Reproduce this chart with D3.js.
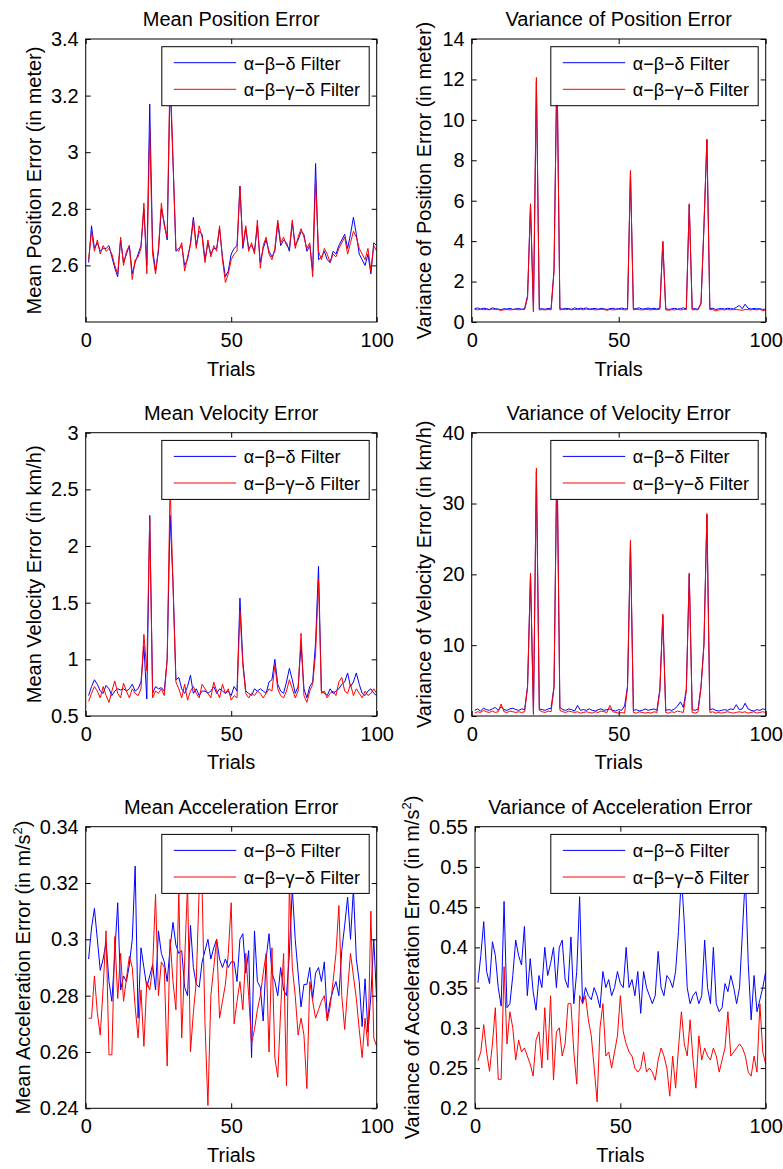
<!DOCTYPE html>
<html><head><meta charset="utf-8">
<script src="https://cdn.jsdelivr.net/npm/d3@7/dist/d3.min.js"></script>
<style>
body{margin:0;background:#fff}
text{font-family:"Liberation Sans",Arial,sans-serif;fill:#000}
</style>
</head><body>
<svg id="chart" width="783" height="1169"></svg>
<script>
// ---------------- DATA ----------------
const trials = d3.range(1, 101);
const xTicks = [0, 50, 100];
const seriesNames = ["α−β−δ Filter", "α−β−γ−δ Filter"];
const seriesColors = ["#0000ff", "#ff0000"];

const titles = ["Mean Position Error", "Variance of Position Error",
  "Mean Velocity Error", "Variance of Velocity Error",
  "Mean Acceleration Error", "Variance of Acceleration Error"];
const yLabels = ["Mean Position Error (in meter)", "Variance of Position Error (in meter)",
  "Mean Velocity Error (in km/h)", "Variance of Velocity Error (in km/h)",
  "Mean Acceleration Error (in m/s^2)", "Variance of Acceleration Error (in m/s^2)"];
const yDomains = [[2.4, 3.4], [0, 14], [0.5, 3], [0, 40], [0.24, 0.34], [0.2, 0.55]];
const yTicks = [
  [2.6, 2.8, 3, 3.2, 3.4],
  [0, 2, 4, 6, 8, 10, 12, 14],
  [0.5, 1, 1.5, 2, 2.5, 3],
  [0, 10, 20, 30, 40],
  [0.24, 0.26, 0.28, 0.3, 0.32, 0.34],
  [0.2, 0.25, 0.3, 0.35, 0.4, 0.45, 0.5, 0.55]];

const meanPosBlue = [2.61,2.74,2.66,2.68,2.65,2.66,2.66,2.67,2.63,2.59,
 2.56,2.69,2.61,2.64,2.67,2.57,2.61,2.64,2.67,2.80,
 2.60,3.17,2.66,2.58,2.65,2.80,2.75,2.69,3.25,2.97,
 2.65,2.66,2.67,2.60,2.62,2.68,2.77,2.67,2.72,2.71,
 2.62,2.68,2.64,2.66,2.66,2.73,2.63,2.56,2.58,2.64,
 2.66,2.67,2.88,2.66,2.73,2.66,2.67,2.65,2.74,2.61,
 2.66,2.69,2.65,2.63,2.65,2.75,2.67,2.69,2.68,2.65,
 2.75,2.67,2.69,2.72,2.71,2.65,2.67,2.58,2.96,2.62,
 2.63,2.65,2.62,2.61,2.65,2.64,2.67,2.69,2.71,2.66,
 2.71,2.77,2.71,2.64,2.62,2.60,2.64,2.57,2.68,2.67];
const meanPosRed = [2.62,2.72,2.65,2.69,2.64,2.67,2.65,2.66,2.64,2.60,
 2.57,2.70,2.60,2.65,2.67,2.55,2.62,2.63,2.66,2.82,
 2.57,3.08,2.64,2.57,2.66,2.82,2.74,2.70,3.30,2.97,
 2.66,2.65,2.68,2.58,2.63,2.67,2.76,2.66,2.74,2.70,
 2.61,2.69,2.63,2.67,2.65,2.74,2.62,2.54,2.57,2.62,
 2.64,2.65,2.88,2.67,2.74,2.65,2.68,2.64,2.76,2.59,
 2.67,2.70,2.64,2.62,2.66,2.76,2.68,2.70,2.67,2.66,
 2.76,2.66,2.70,2.73,2.70,2.66,2.68,2.56,2.90,2.65,
 2.62,2.66,2.64,2.61,2.64,2.63,2.66,2.68,2.70,2.64,
 2.68,2.72,2.70,2.66,2.64,2.62,2.66,2.58,2.67,2.65];

const varPosBlue = [0.66,0.70,0.64,0.68,0.66,0.62,0.70,0.66,0.64,0.61,
 0.66,0.64,0.68,0.62,0.65,0.67,0.63,0.66,1.30,5.80,
 0.55,11.9,0.64,0.66,0.63,0.67,0.65,2.60,12.8,0.66,
 0.64,0.68,0.66,0.63,0.70,0.65,0.68,0.66,0.70,0.64,
 0.66,0.67,0.63,0.68,0.65,0.62,0.66,0.68,0.64,0.66,
 0.69,0.65,0.66,7.40,0.64,0.67,0.70,0.64,0.66,0.69,
 0.65,0.68,0.64,0.70,3.95,0.66,0.62,0.65,0.68,0.64,
 0.66,0.70,0.65,5.80,0.64,0.66,0.63,0.95,4.70,9.00,
 0.66,0.68,0.62,0.65,0.67,0.64,0.68,0.66,0.65,0.72,
 0.82,0.66,0.88,0.68,0.64,0.67,0.65,0.66,0.62,0.64];
const varPosRed = [0.62,0.60,0.63,0.61,0.62,0.60,0.64,0.62,0.61,0.58,
 0.60,0.62,0.60,0.61,0.63,0.60,0.62,0.61,1.20,5.85,
 0.50,12.1,0.60,0.61,0.60,0.62,0.60,2.50,13.0,0.60,
 0.62,0.61,0.63,0.60,0.62,0.61,0.63,0.60,0.64,0.61,
 0.62,0.60,0.61,0.63,0.62,0.58,0.62,0.60,0.61,0.63,
 0.62,0.60,0.61,7.50,0.60,0.62,0.61,0.60,0.62,0.61,
 0.60,0.62,0.61,0.63,4.00,0.60,0.58,0.61,0.60,0.62,
 0.60,0.61,0.62,5.85,0.60,0.61,0.60,0.90,4.80,9.05,
 0.60,0.62,0.55,0.60,0.61,0.60,0.62,0.60,0.61,0.62,
 0.60,0.58,0.62,0.61,0.60,0.62,0.60,0.63,0.55,0.60];

const meanVelBlue = [0.68,0.76,0.82,0.78,0.72,0.70,0.77,0.74,0.68,0.72,
 0.74,0.73,0.74,0.72,0.74,0.78,0.72,0.74,0.80,1.12,
 0.65,2.27,0.70,0.76,0.74,0.75,0.72,1.00,2.27,1.68,
 0.82,0.84,0.74,0.70,0.76,0.86,0.70,0.74,0.68,0.72,
 0.72,0.70,0.72,0.76,0.70,0.74,0.72,0.70,0.72,0.68,
 0.76,0.72,1.54,0.98,0.72,0.70,0.68,0.74,0.72,0.74,
 0.72,0.70,0.80,0.82,1.00,0.78,0.72,0.70,0.80,0.92,
 0.82,0.70,0.76,1.13,0.74,0.66,0.76,0.80,1.15,1.82,
 0.72,0.70,0.68,0.74,0.70,0.72,0.74,0.78,0.80,0.88,
 0.76,0.80,0.88,0.78,0.70,0.68,0.72,0.74,0.70,0.68];
const meanVelRed = [0.63,0.70,0.76,0.72,0.66,0.76,0.68,0.62,0.72,0.81,
 0.70,0.66,0.79,0.72,0.66,0.74,0.70,0.68,0.74,1.22,
 0.90,2.25,0.66,0.72,0.70,0.74,0.68,1.00,2.55,1.65,
 0.80,0.74,0.66,0.78,0.64,0.72,0.76,0.70,0.66,0.78,
 0.74,0.70,0.66,0.80,0.72,0.66,0.78,0.70,0.74,0.64,
 0.68,0.66,1.43,0.95,0.70,0.66,0.70,0.68,0.72,0.70,
 0.66,0.70,0.74,0.72,0.95,0.74,0.68,0.66,0.72,0.82,
 0.74,0.66,0.72,1.23,0.68,0.62,0.72,0.78,1.05,1.70,
 0.70,0.72,0.66,0.70,0.72,0.68,0.80,0.84,0.72,0.70,
 0.78,0.68,0.74,0.70,0.66,0.72,0.68,0.70,0.74,0.70];

const varVelBlue = [0.8,1.0,0.7,1.1,0.9,0.8,1.0,1.2,0.8,1.3,
 0.9,0.8,1.0,1.1,0.9,0.8,1.0,0.9,4.2,20.0,
 0.4,34.5,1.0,0.9,0.8,1.0,1.1,4.2,37.0,1.2,
 0.9,0.8,1.0,0.9,0.7,1.5,0.8,0.9,0.8,1.0,
 0.8,0.7,0.9,1.0,0.8,0.9,1.0,0.8,0.7,0.9,
 0.8,1.4,4.2,24.5,0.8,0.9,0.7,0.8,1.0,0.8,
 0.9,1.0,0.8,3.8,14.2,0.8,0.9,0.8,1.0,1.4,
 2.0,1.2,3.8,20.0,0.9,0.8,1.0,4.2,10.2,28.4,
 0.9,1.0,0.8,0.7,0.8,0.9,0.8,1.0,0.9,1.6,
 0.9,1.0,1.8,1.0,0.8,0.7,0.9,0.8,1.0,0.9];
const varVelRed = [0.4,0.6,0.5,0.8,0.6,0.5,0.7,0.5,0.6,1.7,
 0.6,0.5,0.7,0.6,0.5,0.6,0.5,0.6,4.0,20.2,
 0.2,35.0,0.8,0.6,0.5,0.7,0.6,4.0,38.0,0.8,
 0.6,0.5,0.7,0.6,0.5,0.6,0.4,0.5,0.6,0.5,
 0.4,0.6,0.5,0.7,0.6,0.5,1.5,0.6,0.5,0.4,
 0.5,0.4,4.0,24.8,0.5,0.4,0.6,0.5,0.4,0.5,
 0.4,0.6,0.5,3.5,14.4,0.5,0.4,0.6,0.5,0.7,
 0.6,0.5,3.5,20.2,0.5,0.4,0.6,4.0,10.0,28.6,
 0.5,0.6,0.4,0.5,0.4,0.5,0.6,0.5,0.4,0.5,
 0.6,0.5,0.6,0.4,0.5,0.6,0.4,0.5,0.6,0.5];

const meanAccBlue = [0.293,0.304,0.311,0.300,0.289,0.293,0.299,0.285,0.278,0.295,
 0.313,0.282,0.287,0.285,0.291,0.300,0.326,0.272,0.297,0.290,
 0.283,0.287,0.291,0.282,0.303,0.295,0.292,0.285,0.297,0.306,
 0.298,0.295,0.296,0.283,0.280,0.305,0.290,0.284,0.283,0.292,
 0.296,0.300,0.293,0.297,0.300,0.293,0.290,0.293,0.290,0.292,
 0.292,0.285,0.300,0.302,0.288,0.296,0.258,0.303,0.285,0.283,
 0.271,0.293,0.302,0.288,0.285,0.280,0.290,0.282,0.280,0.295,
 0.318,0.300,0.288,0.276,0.284,0.284,0.290,0.279,0.288,0.290,
 0.285,0.292,0.272,0.278,0.282,0.285,0.280,0.296,0.305,0.315,
 0.300,0.318,0.293,0.285,0.269,0.286,0.267,0.280,0.300,0.278];
const meanAccRed = [0.272,0.272,0.287,0.274,0.266,0.283,0.303,0.259,0.259,0.301,
 0.279,0.295,0.278,0.286,0.294,0.290,0.276,0.265,0.282,0.262,
 0.285,0.282,0.290,0.316,0.280,0.292,0.290,0.255,0.300,0.285,
 0.275,0.317,0.265,0.292,0.320,0.260,0.274,0.285,0.318,0.318,
 0.270,0.241,0.280,0.290,0.300,0.272,0.278,0.284,0.295,0.313,
 0.270,0.278,0.285,0.275,0.295,0.280,0.263,0.268,0.275,0.280,
 0.288,0.295,0.260,0.297,0.258,0.251,0.275,0.295,0.248,0.320,
 0.290,0.280,0.266,0.272,0.266,0.247,0.285,0.278,0.272,0.275,
 0.278,0.280,0.271,0.276,0.285,0.295,0.312,0.280,0.268,0.282,
 0.295,0.287,0.279,0.268,0.258,0.272,0.262,0.310,0.265,0.262];

const varAccBlue = [0.356,0.390,0.432,0.370,0.355,0.407,0.390,0.350,0.327,0.457,
 0.325,0.330,0.365,0.409,0.390,0.378,0.426,0.340,0.386,0.345,
 0.322,0.365,0.350,0.400,0.365,0.380,0.400,0.350,0.400,0.409,
 0.360,0.350,0.413,0.330,0.370,0.463,0.330,0.350,0.340,0.335,
 0.350,0.340,0.325,0.370,0.350,0.360,0.340,0.350,0.370,0.355,
 0.350,0.400,0.350,0.360,0.340,0.370,0.318,0.370,0.350,0.340,
 0.330,0.340,0.395,0.350,0.340,0.365,0.360,0.350,0.370,0.420,
 0.490,0.430,0.350,0.330,0.340,0.345,0.330,0.340,0.409,0.350,
 0.330,0.400,0.330,0.320,0.325,0.355,0.345,0.365,0.350,0.330,
 0.350,0.420,0.490,0.380,0.310,0.365,0.320,0.335,0.350,0.370];
const varAccRed = [0.259,0.270,0.304,0.270,0.246,0.280,0.325,0.236,0.236,0.376,
 0.280,0.320,0.300,0.260,0.285,0.270,0.275,0.265,0.255,0.240,
 0.285,0.295,0.250,0.325,0.260,0.340,0.235,0.295,0.300,0.265,
 0.280,0.330,0.330,0.270,0.230,0.340,0.330,0.340,0.310,0.290,
 0.250,0.208,0.300,0.330,0.265,0.270,0.250,0.270,0.290,0.340,
 0.295,0.280,0.270,0.265,0.250,0.245,0.250,0.270,0.245,0.250,
 0.245,0.235,0.260,0.275,0.265,0.250,0.215,0.265,0.225,0.275,
 0.320,0.280,0.265,0.310,0.260,0.225,0.290,0.260,0.275,0.265,
 0.260,0.275,0.265,0.245,0.260,0.275,0.320,0.265,0.270,0.275,
 0.280,0.275,0.265,0.245,0.240,0.265,0.245,0.330,0.270,0.255];

const blueSeries = [meanPosBlue, varPosBlue, meanVelBlue, varVelBlue, meanAccBlue, varAccBlue];
const redSeries = [meanPosRed, varPosRed, meanVelRed, varVelRed, meanAccRed, varAccRed];

// ---------------- LAYOUT ----------------
const layout = [
  {left: 85.7, top: 39, w: 291, h: 283, ylabX: 44.7},
  {left: 471.7, top: 39, w: 294, h: 283, ylabX: 40.7},
  {left: 85.7, top: 432.7, w: 291, h: 283.3, ylabX: 44.7},
  {left: 471.7, top: 432.7, w: 294, h: 283.3, ylabX: 40.7},
  {left: 85.7, top: 826.7, w: 291, h: 281.6, ylabX: 55.4},
  {left: 475, top: 826.7, w: 290.7, h: 281.6, ylabX: 56}
];

const svg = d3.select("#chart");
svg.append("rect").attr("width", 783).attr("height", 1169).attr("fill", "#fff");

layout.forEach((L, k) => {
  const g = svg.append("g").attr("transform", `translate(${L.left},${L.top})`);
  const x = d3.scaleLinear().domain([0, 100]).range([0, L.w]);
  const y = d3.scaleLinear().domain(yDomains[k]).range([L.h, 0]);

  g.append("rect").attr("width", L.w).attr("height", L.h).attr("fill", "#fff");

  const clipId = "clip" + k;
  g.append("clipPath").attr("id", clipId).append("rect").attr("width", L.w).attr("height", L.h);

  const line = d3.line().x((d, i) => x(trials[i])).y(d => y(d));
  const lg = g.append("g").attr("clip-path", `url(#${clipId})`);
  [blueSeries[k], redSeries[k]].forEach((s, j) => {
    lg.append("path").datum(s).attr("d", line)
      .attr("fill", "none").attr("stroke", seriesColors[j])
      .attr("stroke-width", 1).attr("stroke-linejoin", "round");
  });

  // axes with inward ticks on all sides
  const fmt = v => String(v);
  const left = g.append("g").call(d3.axisLeft(y).tickValues(yTicks[k]).tickSizeInner(-5).tickSizeOuter(0).tickPadding(7).tickFormat(fmt));
  const right = g.append("g").attr("transform", `translate(${L.w},0)`).call(d3.axisRight(y).tickValues(yTicks[k]).tickSizeInner(-5).tickSizeOuter(0).tickFormat(""));
  const bottom = g.append("g").attr("transform", `translate(0,${L.h})`).call(d3.axisBottom(x).tickValues(xTicks).tickSizeInner(-5).tickSizeOuter(0).tickPadding(11).tickFormat(fmt));
  const top = g.append("g").call(d3.axisTop(x).tickValues(xTicks).tickSizeInner(-5).tickSizeOuter(0).tickFormat(""));
  [left, right, bottom, top].forEach(a => {
    a.select(".domain").remove();
    a.selectAll("text").attr("font-size", 20).attr("font-family", "Liberation Sans, Arial, sans-serif").attr("fill", "#000");
    a.selectAll("line").attr("stroke", "#000");
  });

  g.append("rect").attr("width", L.w).attr("height", L.h)
    .attr("fill", "none").attr("stroke", "#000").attr("stroke-width", 1);

  // title
  g.append("text").attr("x", L.w / 2).attr("y", -13).attr("text-anchor", "middle")
    .attr("font-size", 20).text(titles[k]);
  // x label
  g.append("text").attr("x", L.w / 2).attr("y", L.h + 53.5).attr("text-anchor", "middle")
    .attr("font-size", 20).text("Trials");
  // y label
  const yl = g.append("text").attr("text-anchor", "middle").attr("font-size", 20)
    .attr("transform", `translate(${-L.ylabX},${L.h / 2}) rotate(-90)`);
  const parts = yLabels[k].split("^");
  if (parts.length === 1) {
    yl.text(parts[0]);
  } else {
    yl.append("tspan").text(parts[0]);
    yl.append("tspan").attr("font-size", 13).attr("dy", -8).text(parts[1].charAt(0));
    yl.append("tspan").attr("dy", 8).text(parts[1].slice(1));
  }

  // legend
  const lw = 207.4, lh = 59;
  const lx = L.w - 7.5 - lw, ly = 7.7;
  const leg = g.append("g").attr("transform", `translate(${lx},${ly})`);
  leg.append("rect").attr("width", lw).attr("height", lh).attr("fill", "#fff")
    .attr("stroke", "#000").attr("stroke-width", 1);
  seriesNames.forEach((name, j) => {
    const yy = 16 + j * 26.6;
    leg.append("line").attr("x1", 12).attr("x2", 74.4).attr("y1", yy).attr("y2", yy)
      .attr("stroke", seriesColors[j]).attr("stroke-width", 1);
    leg.append("text").attr("x", 82).attr("y", yy + 7).attr("font-size", 18).text(name);
  });
});
</script>
</body></html>
